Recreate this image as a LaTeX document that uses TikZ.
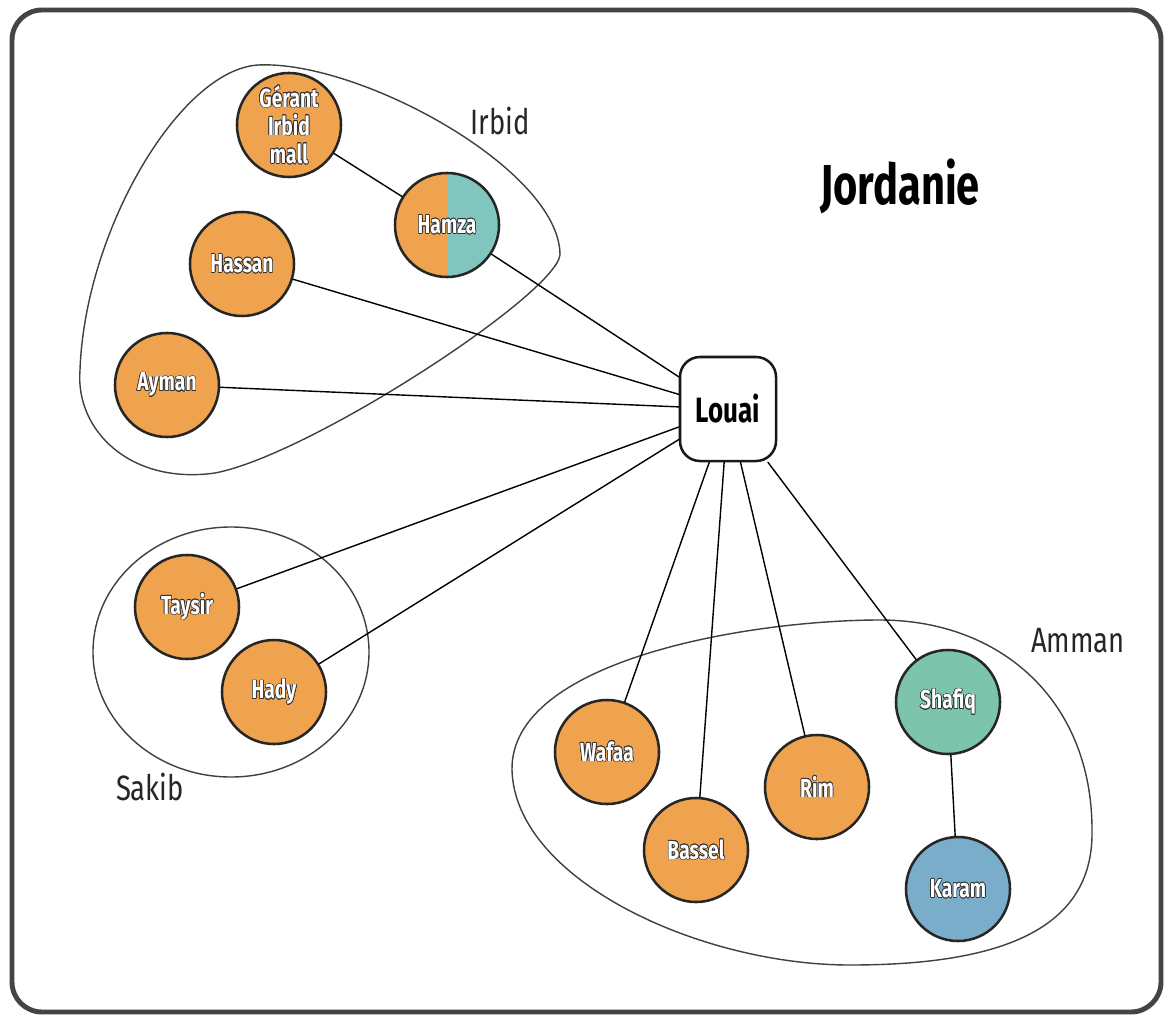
\documentclass[tikz,border=0pt]{standalone}
\usepackage{fontspec}
\usepackage{contour}
\newfontfamily\condfont[FakeStretch=0.74]{Fira Sans}
\newfontfamily\labelfont[FakeStretch=0.78]{Fira Sans}
\definecolor{orangeC}{RGB}{240,163,78}
\definecolor{vertC}{RGB}{125,196,172}
\definecolor{turqC}{RGB}{128,198,190}
\definecolor{bleuC}{RGB}{121,173,202}
\definecolor{cadreC}{RGB}{68,68,68}
\contourlength{0.45pt}
\newcommand{\nom}[1]{\contour{black!80}{#1}}

\begin{document}
\begin{tikzpicture}[x=0.025cm, y=-0.025cm, line cap=round, line join=round]

	% Styles des personnes et des groupes
	\tikzset{
		personne/.style={circle, draw=black!85, line width=1.8pt, minimum size=2.6cm,
			inner sep=0pt, fill=orangeC, text=white, align=center,
			font=\condfont\bfseries\fontsize{18.5}{20}\selectfont},
		centre/.style={draw=black!90, line width=1.8pt, rounded corners=0.5cm,
			minimum width=2.4cm, minimum height=2.6cm, fill=white,
			font=\condfont\bfseries\fontsize{25}{28}\selectfont},
		groupe/.style={draw=black!75, line width=1pt},
		etiquette/.style={font=\labelfont\fontsize{25}{28}\selectfont, text=black!85},
		lien/.style={draw=black, line width=1pt}
	}

	\useasboundingbox (0,0) rectangle (1168,1017);
	\fill[white] (0,0) rectangle (1168,1017);

	% ----------------------------------------------------
	% Cadre et titre
	% ----------------------------------------------------
	\draw[rounded corners=0.75cm, line width=3.5pt, cadreC] (12,10) rectangle (1161,1012);
	\node[anchor=base, font=\condfont\bfseries\fontsize{40}{44}\selectfont] (titre) at (900,205) {Jordanie};

	% ----------------------------------------------------
	% Contours des groupes (Irbid, Sakib, Amman)
	% ----------------------------------------------------
	\draw[groupe] (258,65) .. controls (360,60) and (560,170) .. (560,255)
		.. controls (555,295) and (310,455) .. (215,473)
		.. controls (130,485) and (75,430) .. (80,370)
		.. controls (85,230) and (180,70) .. (258,65) -- cycle;
	\draw[groupe] (231,652) ellipse [x radius=138, y radius=125];
	\draw[groupe] (512,770) .. controls (510,660) and (750,620) .. (880,620)
		.. controls (1000,620) and (1092,700) .. (1092,830)
		.. controls (1094,930) and (1000,965) .. (850,965)
		.. controls (700,965) and (515,880) .. (512,770) -- cycle;

	\node[etiquette, anchor=base] (irbid) at (500,135) {Irbid};
	\node[etiquette, anchor=base] (sakib) at (150,800) {Sakib};
	\node[etiquette, anchor=base] (amman) at (1078,652) {Amman};

	% ----------------------------------------------------
	% Personnes
	% ----------------------------------------------------
	\node[centre] (louai) at (728,409) {Louai};

	\node[personne] (gerant) at (289,125) {\nom{Gérant}\\\nom{Irbid}\\\nom{mall}};
	\node[personne, fill=none, path picture={
		\fill[orangeC] (path picture bounding box.south west) rectangle (path picture bounding box.north);
		\fill[turqC] (path picture bounding box.south) rectangle (path picture bounding box.north east);
	}] (hamza) at (447,225) {\nom{Hamza}};
	\node[personne] (hassan) at (242,264) {\nom{Hassan}};
	\node[personne] (ayman) at (167,385) {\nom{Ayman}};

	\node[personne] (taysir) at (187,607) {\nom{Taysir}};
	\node[personne] (hady) at (274,692) {\nom{Hady}};

	\node[personne] (wafaa) at (607,752) {\nom{Wafaa}};
	\node[personne] (bassel) at (696,850) {\nom{Bassel}};
	\node[personne] (rim) at (817,787) {\nom{Rim}};
	\node[personne, fill=vertC] (shafiq) at (948,702) {\nom{Shafiq}};
	\node[personne, fill=bleuC] (karam) at (958,889) {\nom{Karam}};

	% ----------------------------------------------------
	% Liens
	% ----------------------------------------------------
	\draw[lien] (gerant) -- (hamza);
	\draw[lien] (shafiq) -- (karam);
	\foreach \p in {hamza, hassan, ayman, taysir, hady, wafaa, bassel, rim, shafiq}
		\draw[lien] (\p) -- (louai);

\end{tikzpicture}
\end{document}
